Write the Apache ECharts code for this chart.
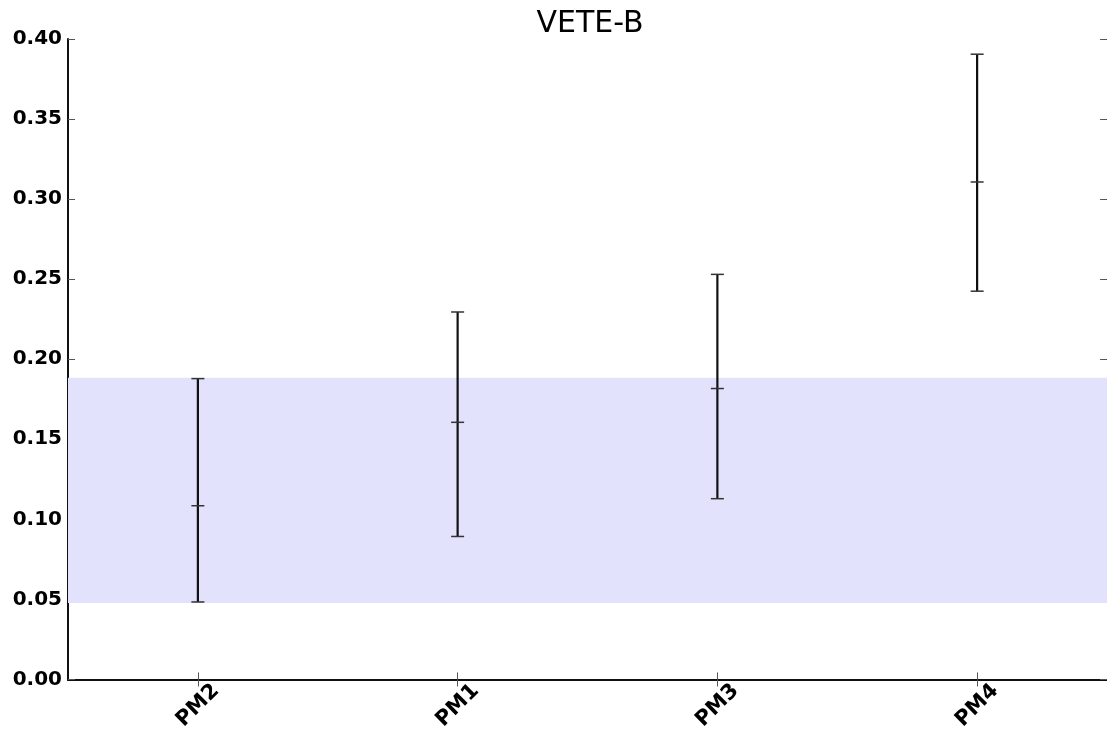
<!DOCTYPE html>
<html>
<head>
<meta charset="utf-8">
<script src="https://cdn.jsdelivr.net/npm/echarts@6/dist/echarts.min.js"></script>
<style>
  html, body { margin: 0; padding: 0; background: #fff; }
  #chart { width: 1107px; height: 733px; }
</style>
</head>
<body>
<div id="chart"></div>
<script>
// Categories along the x axis
const categories = ['PM2', 'PM1', 'PM3', 'PM4'];
// Lower end, centre and upper end of each interval
const lowValues = [0.0484, 0.0893, 0.1129, 0.2425];
const midValues = [0.1085, 0.1606, 0.1817, 0.3107];
const highValues = [0.1879, 0.2295, 0.2530, 0.3905];
// Shaded reference band
const bandRange = [0.0477, 0.1885];
// Y axis ticks
const yTicks = { min: 0, max: 0.4, interval: 0.05 };

const fontFamily = 'DejaVu Sans';

const errorData = categories.map((c, i) => [i, lowValues[i], midValues[i], highValues[i]]);

function renderErrorBar(params, api) {
  const idx = api.value(0);
  const lo = api.coord([idx, api.value(1)]);
  const mid = api.coord([idx, api.value(2)]);
  const hi = api.coord([idx, api.value(3)]);
  const half = 6.5;
  const capStyle = { stroke: '#333', lineWidth: 1.5 };
  return {
    type: 'group',
    children: [
      { type: 'line', shape: { x1: hi[0], y1: hi[1], x2: lo[0], y2: lo[1] },
        style: { stroke: '#111', lineWidth: 2.2 } },
      { type: 'line', shape: { x1: hi[0] - half, y1: hi[1], x2: hi[0] + half, y2: hi[1] }, style: capStyle },
      { type: 'line', shape: { x1: lo[0] - half, y1: lo[1], x2: lo[0] + half, y2: lo[1] }, style: capStyle },
      { type: 'line', shape: { x1: mid[0] - half, y1: mid[1], x2: mid[0] + half, y2: mid[1] }, style: capStyle }
    ]
  };
}

const innerTick = { show: true, inside: true, length: 7, alignWithLabel: true,
  lineStyle: { color: '#555', width: 1 } };
const frameLine = { show: true, lineStyle: { color: '#111', width: 2 } };

const option = {
  animation: false,
  backgroundColor: '#fff',
  title: {
    text: 'VETE-B',
    left: 585,
    textAlign: 'center',
    top: 4,
    textStyle: { fontFamily, fontSize: 30, fontWeight: 'normal', color: '#000' }
  },
  grid: { left: 68, width: 1043, top: 39, bottom: 49 },
  xAxis: [
    {
      type: 'category', data: categories, position: 'bottom',
      axisLine: frameLine, axisTick: innerTick,
      axisLabel: { rotate: 45, margin: 26, align: 'center', verticalAlign: 'middle',
        fontFamily, fontSize: 21, fontWeight: 'bold', color: '#000' },
      splitLine: { show: false }
    },
    {
      type: 'category', data: categories, position: 'top',
      axisLine: frameLine, axisTick: innerTick,
      axisLabel: { show: false }, splitLine: { show: false }
    }
  ],
  yAxis: [
    {
      type: 'value', min: yTicks.min, max: yTicks.max, interval: yTicks.interval,
      axisLine: frameLine, axisTick: innerTick,
      axisLabel: { fontFamily, fontSize: 20, fontWeight: 'bold', color: '#000', margin: 6,
        formatter: v => v.toFixed(2) },
      splitLine: { show: false }
    },
    {
      // right-hand frame sits just past the canvas edge; only its inward ticks show
      type: 'value', position: 'right', min: yTicks.min, max: yTicks.max, interval: yTicks.interval,
      axisLine: { show: false }, axisTick: innerTick,
      axisLabel: { show: false }, splitLine: { show: false }
    }
  ],
  series: [
    {
      type: 'custom',
      xAxisIndex: 0, yAxisIndex: 0,
      renderItem: renderErrorBar,
      encode: { x: 0, y: [1, 2, 3] },
      data: errorData,
      z: 5,
      markArea: {
        silent: true,
        itemStyle: { color: '#e2e2fc' },
        data: [[{ yAxis: bandRange[0] }, { yAxis: bandRange[1] }]]
      }
    }
  ]
};

const chart = echarts.init(document.getElementById('chart'), null, { renderer: 'canvas' });
chart.setOption(option);
</script>
</body>
</html>
